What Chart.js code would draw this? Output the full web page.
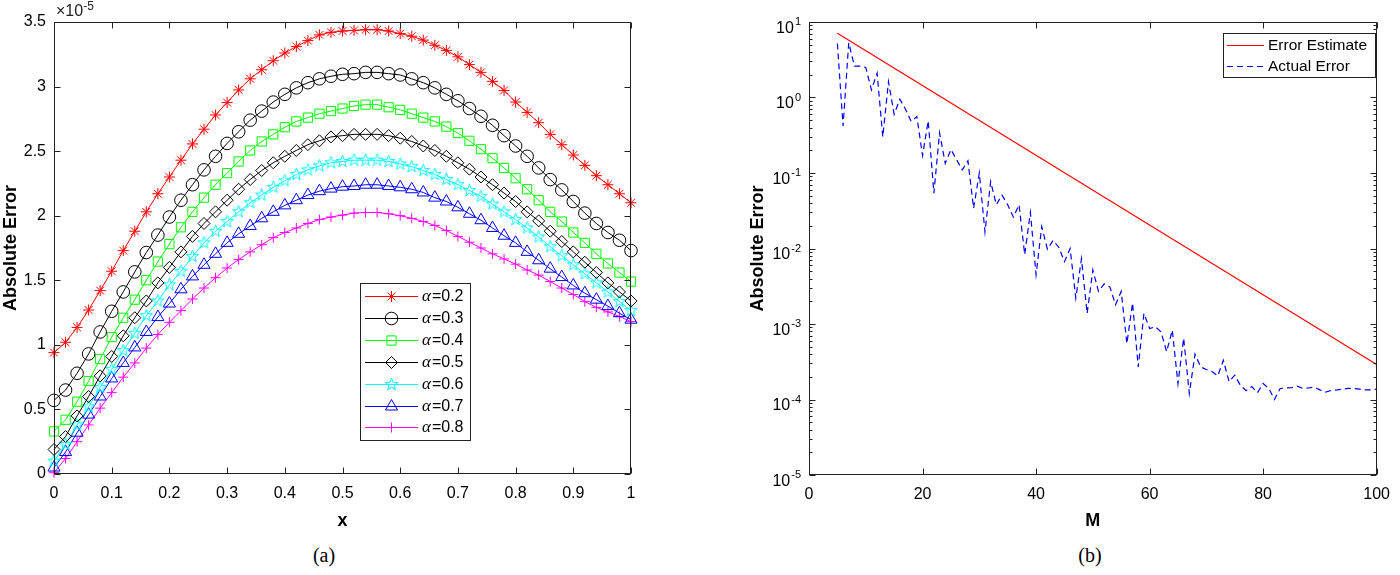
<!DOCTYPE html>
<html>
<head>
<meta charset="utf-8">
<title>Absolute error</title>
<script src="https://cdn.jsdelivr.net/npm/chart.js@4.4.1/dist/chart.umd.min.js"></script>
<style>
  body { margin: 0; background: #fff; }
  #page { position: relative; width: 1400px; height: 575px; overflow: hidden; font-family: "Liberation Sans", Arial, sans-serif; }
  canvas { position: absolute; top: 0; }
  #chartA { left: 0; }
  #chartB { left: 700px; }
  .scale { position: absolute; left: 56px; top: 3px; font-size: 16px; line-height: 16px; color: #222; }
  .scale sup { font-size: 12px; vertical-align: 6px; line-height: 0; }
  .cap { position: absolute; top: 544px; font: 20px "Liberation Serif", "DejaVu Serif", serif; transform: translateX(-50%); }
</style>
</head>
<body>
<div id="page">
  <canvas id="chartA" width="700" height="540"></canvas>
  <canvas id="chartB" width="700" height="540"></canvas>
  <div class="scale">×10<sup>-5</sup></div>
  <div class="cap" style="left:324px">(a)</div>
  <div class="cap" style="left:1090px">(b)</div>
</div>
<script>
const FAMILY = '"Liberation Sans", Arial, Helvetica, sans-serif';
Chart.defaults.font.family = FAMILY;
Chart.defaults.color = '#000';

// ---- (a) absolute error vs x, values in units of 1e-5
const xs = [0, 0.02, 0.04, 0.06, 0.08, 0.1, 0.12, 0.14, 0.16, 0.18, 0.2, 0.22, 0.24, 0.26, 0.28, 0.3, 0.32, 0.34, 0.36, 0.38, 0.4,
  0.42, 0.44, 0.46, 0.48, 0.5, 0.52, 0.54, 0.56, 0.58, 0.6, 0.62, 0.64, 0.66, 0.68, 0.7, 0.72, 0.74, 0.76, 0.78, 0.8,
  0.82, 0.84, 0.86, 0.88, 0.9, 0.92, 0.94, 0.96, 0.98, 1];
const alphas = ['0.2', '0.3', '0.4', '0.5', '0.6', '0.7', '0.8'];
const err02 = [0.94, 1.02, 1.135, 1.27, 1.42, 1.57, 1.73, 1.88, 2.03, 2.17, 2.30, 2.43, 2.556, 2.67, 2.78, 2.876, 2.974, 3.06, 3.13, 3.20, 3.26,
  3.31, 3.356, 3.40, 3.42, 3.43, 3.435, 3.44, 3.44, 3.43, 3.41, 3.39, 3.36, 3.32, 3.28, 3.23, 3.17, 3.11, 3.04, 2.97, 2.88,
  2.80, 2.72, 2.63, 2.55, 2.47, 2.39, 2.31, 2.24, 2.17, 2.10];
const err03 = [0.57, 0.65, 0.78, 0.93, 1.10, 1.26, 1.41, 1.565, 1.715, 1.85, 1.99, 2.12, 2.24, 2.355, 2.46, 2.56, 2.65, 2.74, 2.81, 2.88, 2.94,
  2.99, 3.03, 3.06, 3.08, 3.095, 3.10, 3.11, 3.11, 3.10, 3.09, 3.06, 3.03, 2.99, 2.94, 2.89, 2.83, 2.77, 2.70, 2.62, 2.54,
  2.46, 2.37, 2.28, 2.20, 2.11, 2.02, 1.94, 1.87, 1.81, 1.73];
const err04 = [0.33, 0.42, 0.56, 0.72, 0.89, 1.06, 1.21, 1.35, 1.50, 1.645, 1.78, 1.91, 2.03, 2.14, 2.24, 2.33, 2.42, 2.505, 2.575, 2.63, 2.685,
  2.73, 2.76, 2.79, 2.81, 2.83, 2.85, 2.86, 2.86, 2.84, 2.82, 2.79, 2.76, 2.73, 2.69, 2.64, 2.58, 2.515, 2.445, 2.37, 2.29,
  2.205, 2.12, 2.03, 1.955, 1.87, 1.79, 1.705, 1.63, 1.56, 1.49];
const err05 = [0.19, 0.29, 0.45, 0.60, 0.76, 0.91, 1.07, 1.21, 1.34, 1.48, 1.60, 1.72, 1.84, 1.94, 2.03, 2.12, 2.205, 2.28, 2.35, 2.41, 2.46,
  2.505, 2.55, 2.58, 2.61, 2.62, 2.63, 2.63, 2.63, 2.62, 2.60, 2.575, 2.54, 2.505, 2.46, 2.41, 2.36, 2.30, 2.24, 2.175, 2.11,
  2.03, 1.96, 1.88, 1.80, 1.72, 1.64, 1.56, 1.48, 1.41, 1.34];
const err06 = [0.10, 0.23, 0.38, 0.52, 0.67, 0.81, 0.955, 1.09, 1.225, 1.34, 1.465, 1.57, 1.685, 1.79, 1.88, 1.955, 2.03, 2.10, 2.16, 2.22, 2.27,
  2.32, 2.355, 2.386, 2.41, 2.42, 2.43, 2.43, 2.43, 2.42, 2.40, 2.38, 2.35, 2.32, 2.28, 2.24, 2.195, 2.15, 2.09, 2.03, 1.97,
  1.905, 1.835, 1.76, 1.69, 1.62, 1.55, 1.48, 1.41, 1.335, 1.265];
const err07 = [0.05, 0.17, 0.32, 0.46, 0.60, 0.74, 0.86, 0.98, 1.10, 1.215, 1.32, 1.43, 1.53, 1.62, 1.705, 1.79, 1.86, 1.92, 1.98, 2.03, 2.08,
  2.12, 2.16, 2.19, 2.21, 2.225, 2.23, 2.24, 2.24, 2.23, 2.22, 2.205, 2.18, 2.14, 2.11, 2.065, 2.015, 1.965, 1.905, 1.845, 1.79,
  1.72, 1.655, 1.59, 1.525, 1.46, 1.40, 1.35, 1.30, 1.245, 1.195];
const err08 = [0.01, 0.12, 0.25, 0.38, 0.51, 0.63, 0.75, 0.86, 0.975, 1.08, 1.175, 1.265, 1.355, 1.44, 1.52, 1.595, 1.66, 1.72, 1.775, 1.83, 1.87,
  1.905, 1.94, 1.97, 1.99, 2.005, 2.02, 2.025, 2.025, 2.015, 2.0, 1.98, 1.955, 1.925, 1.885, 1.84, 1.795, 1.75, 1.705, 1.665, 1.625,
  1.58, 1.54, 1.49, 1.44, 1.39, 1.335, 1.29, 1.255, 1.22, 1.18];
const xTicksA = [0, 0.1, 0.2, 0.3, 0.4, 0.5, 0.6, 0.7, 0.8, 0.9, 1];
const xLabelsA = ['0', '0.1', '0.2', '0.3', '0.4', '0.5', '0.6', '0.7', '0.8', '0.9', '1'];
const yTicksA = [0, 0.5, 1, 1.5, 2, 2.5, 3, 3.5];
const yLabelsA = ['0', '0.5', '1', '1.5', '2', '2.5', '3', '3.5'];

// ---- (b) error estimate vs actual error
const M = [5, 6, 7, 8, 9, 10, 11, 12, 13, 14, 15, 16, 17, 18, 19, 20, 21, 22, 23, 24, 25, 26, 27, 28, 29, 30, 31, 32, 33, 34,
  35, 36, 37, 38, 39, 40, 41, 42, 43, 44, 45, 46, 47, 48, 49, 50, 51, 52, 53, 54, 55, 56, 57, 58, 59, 60, 61, 62, 63, 64,
  65, 66, 67, 68, 69, 70, 71, 72, 73, 74, 75, 76, 77, 78, 79, 80, 81, 82, 83, 84, 85, 86, 87, 88, 89, 90, 91, 92, 93, 94,
  95, 96, 97, 98, 99, 100];
const actualErr = [5.2, 0.42, 5.3, 2.6, 2.6, 2.5, 1.26, 2.1, 0.30, 1.62,
  0.60, 0.95, 0.70, 0.48, 0.56, 0.17, 0.49, 0.054, 0.34, 0.134,
  0.205, 0.15, 0.11, 0.145, 0.034, 0.10, 0.0166, 0.077, 0.038, 0.051,
  0.038, 0.026, 0.038, 0.0083, 0.030, 0.0045, 0.0195, 0.0098, 0.0128, 0.0104,
  0.0067, 0.0100, 0.0022, 0.0073, 0.00138, 0.0052, 0.0027, 0.0034, 0.0031, 0.0018,
  0.0027, 0.00055, 0.0019, 0.00027, 0.00138, 0.00087, 0.00092, 0.00079, 0.00043, 0.00083,
  0.000162, 0.00065, 0.00012, 0.0004, 0.00027, 0.00025, 0.000234, 0.000205, 0.00033, 0.000172,
  0.00021, 0.000154, 0.000131, 0.000148, 0.000123, 0.000163, 0.00014, 0.0001, 0.00014, 0.000142,
  0.000143, 0.00015, 0.00014, 0.000142, 0.000146, 0.000134, 0.000125, 0.000132, 0.000134, 0.000137,
  0.00014, 0.00014, 0.000137, 0.000134, 0.000134, 0.000137];
const estM = [5, 100];
const estErr = [7.1, 2.9e-4];
const xTicksB = [0, 20, 40, 60, 80, 100];
const xLabelsB = ['0', '20', '40', '60', '80', '100'];
const yTicksB = [1e-5, 1e-4, 1e-3, 1e-2, 1e-1, 1, 10];
const yExpB = ['-5', '-4', '-3', '-2', '-1', '0', '1'];   // drawn as 10^e

// five pointed star marker (Chart.js has none)
function pentagram(color, r) {
  const c = document.createElement('canvas');
  const s = Math.ceil(r * 2 + 4);
  c.width = c.height = s;
  const g = c.getContext('2d');
  g.strokeStyle = color;
  g.lineWidth = 1;
  g.beginPath();
  for (let i = 0; i < 10; i++) {
    const rr = i % 2 ? r * 0.4 : r;
    const a = -Math.PI / 2 + i * Math.PI / 5;
    const px = s / 2 + rr * Math.cos(a), py = s / 2 + rr * Math.sin(a);
    if (i) g.lineTo(px, py); else g.moveTo(px, py);
  }
  g.closePath();
  g.stroke();
  return c;
}

// matlab style box with inward ticks (+ 10^n labels for the log axis)
const boxAxes = {
  id: 'boxAxes',
  afterDraw(chart, args, o) {
    const { ctx, chartArea: a, scales: { x, y } } = chart;
    const L = Math.round(a.left) + 0.5, R = Math.round(a.right) - 0.5;
    const T = Math.round(a.top) + 0.5, B = Math.round(a.bottom) - 0.5;
    ctx.save();
    ctx.strokeStyle = '#222';
    ctx.lineWidth = 1;
    ctx.strokeRect(L, T, R - L, B - T);
    ctx.beginPath();
    x.ticks.forEach(t => {
      const p = Math.round(x.getPixelForValue(t.value)) + 0.5;
      ctx.moveTo(p, B); ctx.lineTo(p, B - o.len);
      ctx.moveTo(p, T); ctx.lineTo(p, T + o.len);
    });
    const yt = y.ticks.map(t => t.value);
    yt.forEach(v => {
      const p = Math.round(y.getPixelForValue(v)) + 0.5;
      ctx.moveTo(L, p); ctx.lineTo(L + o.len, p);
      ctx.moveTo(R, p); ctx.lineTo(R - o.len, p);
    });
    if (o.minor) {
      yt.slice(0, -1).forEach(v => {
        for (let k = 2; k < 10; k++) {
          const p = Math.round(y.getPixelForValue(v * k)) + 0.5;
          ctx.moveTo(L, p); ctx.lineTo(L + o.minor, p);
          ctx.moveTo(R, p); ctx.lineTo(R - o.minor, p);
        }
      });
    }
    ctx.stroke();
    if (o.pow10) {
      ctx.fillStyle = '#000';
      ctx.textAlign = 'right';
      ctx.textBaseline = 'alphabetic';
      yt.forEach((v, i) => {
        const p = y.getPixelForValue(v);
        const xr = a.left - 8;
        ctx.font = '11px ' + FAMILY;
        const ew = ctx.measureText(o.pow10[i]).width;
        ctx.fillText(o.pow10[i], xr, p + 3);
        ctx.font = '16px ' + FAMILY;
        ctx.fillText('10', xr - ew - 1, p + 10.5);
      });
    }
    ctx.restore();
  }
};

// boxed legend placed inside the axes
const boxLegend = {
  id: 'boxLegend',
  afterDraw(chart, args, o) {
    const ctx = chart.ctx;
    ctx.save();
    ctx.fillStyle = '#fff';
    ctx.fillRect(o.x, o.y, o.w, o.h);
    ctx.strokeStyle = '#222';
    ctx.lineWidth = 1;
    ctx.strokeRect(o.x + 0.5, o.y + 0.5, o.w, o.h);
    chart.data.datasets.forEach((d, i) => {
      const cy = Math.round(o.y + o.first + i * o.row) + 0.5;
      ctx.save();
      ctx.strokeStyle = d.borderColor;
      ctx.lineWidth = d.borderWidth;
      ctx.setLineDash(d.borderDash || []);
      ctx.beginPath();
      ctx.moveTo(o.x + o.x0, cy);
      ctx.lineTo(o.x + o.x1, cy);
      ctx.stroke();
      ctx.setLineDash([]);
      if (d.pointRadius > 0 && Chart.helpers && Chart.helpers.drawPoint) {
        ctx.fillStyle = 'rgba(0,0,0,0)';
        ctx.strokeStyle = d.pointBorderColor;
        ctx.lineWidth = d.pointBorderWidth;
        Chart.helpers.drawPoint(ctx, { pointStyle: d.pointStyle, radius: d.pointRadius, rotation: 0, borderWidth: d.pointBorderWidth },
          o.x + (o.x0 + o.x1) / 2, cy);
      }
      ctx.restore();
      ctx.fillStyle = '#000';
      ctx.textBaseline = 'middle';
      ctx.textAlign = 'left';
      let tx = o.x + o.tx;
      let text = d.label;
      if (text.startsWith('α')) {
        ctx.font = 'italic 17px "Liberation Serif", "DejaVu Serif", serif';
        ctx.fillText('α', tx, cy);
        tx += ctx.measureText('α').width + 1;
        text = text.slice(1);
      }
      ctx.font = o.font;
      ctx.fillText(text, tx, cy);
    });
    ctx.restore();
  }
};

function axis(ticks, labels, pad, extra) {
  return Object.assign({
    grid: { display: false, drawTicks: false },
    border: { display: false },
    afterBuildTicks: s => { s.ticks = ticks.map(v => ({ value: v })); },
    ticks: { padding: pad, font: { size: 16 }, color: '#000', autoSkip: false, maxRotation: 0, minRotation: 0,
      callback: (v, i) => labels[i] }
  }, extra);
}

function series(label, ys, color, style, radius) {
  return {
    label: label,
    data: xs.map((x, i) => ({ x: x, y: ys[i] })),
    borderColor: color,
    borderWidth: 1,
    pointStyle: style,
    pointRadius: radius,
    pointHoverRadius: radius,
    pointBorderColor: color,
    pointBackgroundColor: 'rgba(0,0,0,0)',
    pointBorderWidth: 1,
    tension: 0,
    fill: false,
    clip: false
  };
}

const titleFont = { size: 18, weight: 'bold' };

new Chart(document.getElementById('chartA'), {
  type: 'line',
  data: {
    datasets: [
      series('α=' + alphas[0], err02, '#ff0000', 'star', 5.5),
      series('α=' + alphas[1], err03, '#000000', 'circle', 6.3),
      series('α=' + alphas[2], err04, '#00ff00', 'rect', 6.5),
      series('α=' + alphas[3], err05, '#000000', 'rectRot', 6),
      series('α=' + alphas[4], err06, '#00ffff', pentagram('#00ffff', 6.5), 6.5),
      series('α=' + alphas[5], err07, '#0000ff', 'triangle', 7),
      series('α=' + alphas[6], err08, '#ff00ff', 'cross', 5)
    ]
  },
  options: {
    responsive: false,
    animation: false,
    events: [],
    layout: { padding: { top: 22, right: 69, bottom: 0, left: 0 } },
    plugins: {
      legend: { display: false },
      tooltip: { enabled: false },
      boxAxes: { len: 6 },
      boxLegend: { x: 360, y: 283, w: 110, h: 157, first: 13, row: 21.9, x0: 5, x1: 58, tx: 62,
        font: '16px ' + FAMILY }
    },
    scales: {
      x: axis(xTicksA, xLabelsA, 10, {
        type: 'linear', position: 'bottom', min: 0, max: 1,
        title: { display: true, text: 'x', font: titleFont, color: '#000', padding: { top: 0, bottom: 8 } },
        afterFit: s => { s.height = 66; }
      }),
      y: axis(yTicksA, yLabelsA, 8, {
        type: 'linear', position: 'left', min: 0, max: 3.5,
        title: { display: true, text: 'Absolute Error', font: titleFont, color: '#000', padding: { top: 0, bottom: 0 } },
        afterFit: s => { s.width = 54; }
      })
    }
  },
  plugins: [boxAxes, boxLegend]
});

const yB = axis(yTicksB, yExpB, 8, {
  type: 'logarithmic', position: 'left', min: 1e-5, max: 10,
  title: { display: true, text: 'Absolute Error', font: titleFont, color: '#000', padding: { top: 47, bottom: 0 } },
  afterFit: s => { s.width = 109; }
});
yB.ticks.display = false;

new Chart(document.getElementById('chartB'), {
  type: 'line',
  data: {
    datasets: [
      {
        label: 'Error Estimate',
        data: estM.map((m, i) => ({ x: m, y: estErr[i] })),
        borderColor: '#ff0000',
        borderWidth: 1.2,
        pointRadius: 0,
        tension: 0,
        fill: false
      },
      {
        label: 'Actual Error',
        data: M.map((m, i) => ({ x: m, y: actualErr[i] })),
        borderColor: '#0000ff',
        borderWidth: 1.2,
        borderDash: [6, 4],
        pointRadius: 0,
        tension: 0,
        fill: false
      }
    ]
  },
  options: {
    responsive: false,
    animation: false,
    events: [],
    layout: { padding: { top: 22, right: 14, bottom: 0, left: 0 } },
    plugins: {
      legend: { display: false },
      tooltip: { enabled: false },
      boxAxes: { len: 6, minor: 3, pow10: yExpB },
      boxLegend: { x: 523, y: 33, w: 152, h: 44, first: 12, row: 21, x0: 4, x1: 41, tx: 45,
        font: '15.5px ' + FAMILY }
    },
    scales: {
      x: axis(xTicksB, xLabelsB, 10, {
        type: 'linear', position: 'bottom', min: 0, max: 100,
        title: { display: true, text: 'M', font: titleFont, color: '#000', padding: { top: 0, bottom: 8 } },
        afterFit: s => { s.height = 65; }
      }),
      y: yB
    }
  },
  plugins: [boxAxes, boxLegend]
});
</script>
</body>
</html>
